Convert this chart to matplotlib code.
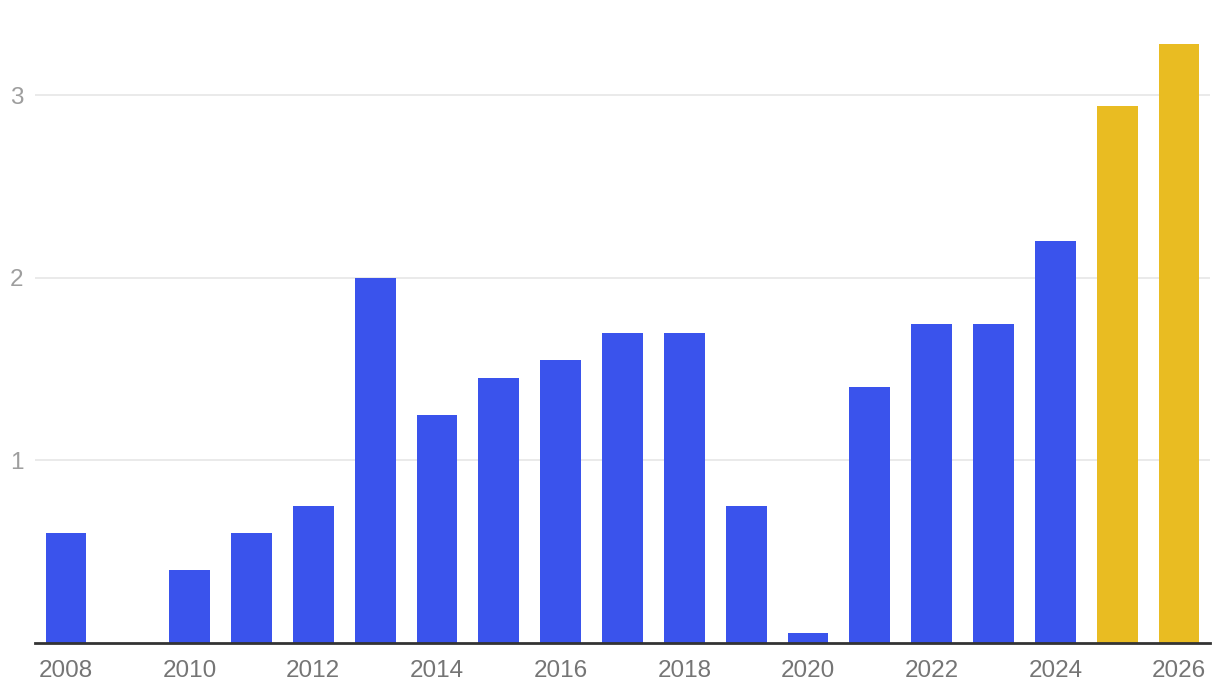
import matplotlib
matplotlib.use("Agg")
import matplotlib.pyplot as plt

# Data
years = list(range(2008, 2027))
values = [0.6, 0.0, 0.4, 0.6, 0.75, 2.0, 1.25, 1.45, 1.55, 1.7, 1.7,
          0.75, 0.055, 1.4, 1.75, 1.75, 2.2, 2.94, 3.28]
forecast_years = [2025, 2026]
tick_years = [2008, 2010, 2012, 2014, 2016, 2018, 2020, 2022, 2024, 2026]
y_ticks = [1, 2, 3]

blue = "#3a53ec"
gold = "#e9bc22"
colors = [gold if y in forecast_years else blue for y in years]

fig = plt.figure(figsize=(12.2, 6.96), dpi=100)
ax = fig.add_axes([35 / 1220, 53 / 696, 1175 / 1220, 639 / 696])

ax.bar(years, values, width=0.66, color=colors, zorder=2)

ax.set_xlim(2007.5, 2026.5)
ax.set_ylim(0, 3.5)

ax.set_yticks(y_ticks)
ax.set_yticklabels([str(t) for t in y_ticks])
ax.set_xticks(tick_years)
ax.set_xticklabels([str(t) for t in tick_years])

ax.grid(axis="y", color="#e6e6e6", linewidth=1.2, zorder=1)
ax.set_axisbelow(True)

for side in ["top", "right", "left"]:
    ax.spines[side].set_visible(False)
ax.spines["bottom"].set_color("#333333")
ax.spines["bottom"].set_linewidth(2)
ax.spines["bottom"].set_zorder(3)

ax.tick_params(axis="x", length=0, pad=12, labelsize=17.5, labelcolor="#757575")
ax.tick_params(axis="y", length=0, pad=8.5, labelsize=17.5, labelcolor="#9e9e9e")

for lbl in ax.get_xticklabels() + ax.get_yticklabels():
    lbl.set_family(["Liberation Sans", "DejaVu Sans"])

fig.savefig("out.png", dpi=100)
